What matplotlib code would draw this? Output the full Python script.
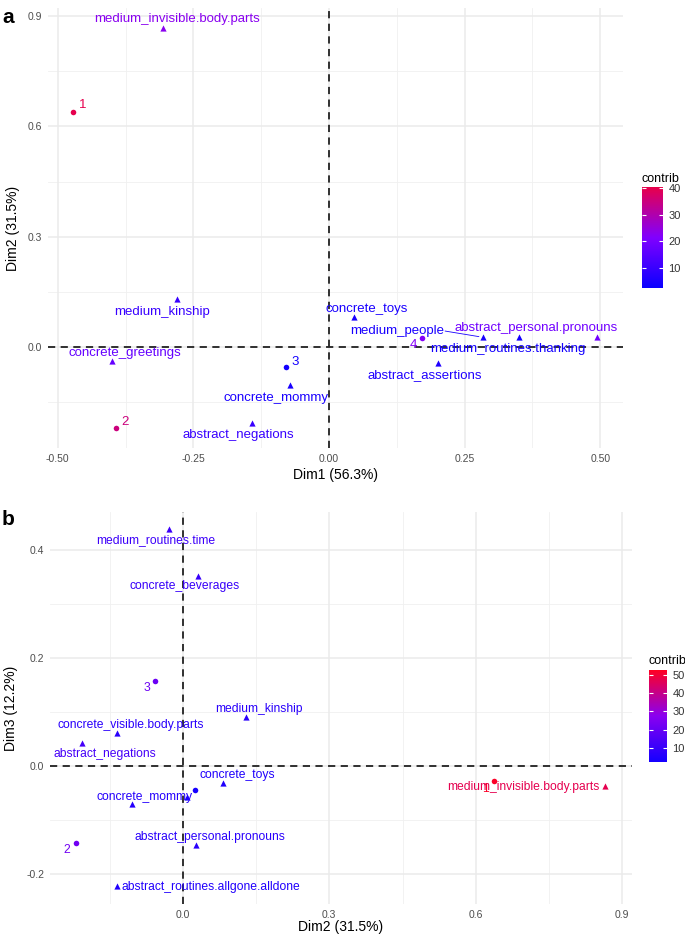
import numpy as np
import matplotlib.pyplot as plt
from matplotlib.colors import LinearSegmentedColormap, Normalize
from matplotlib.cm import ScalarMappable

plt.rcParams["font.family"] = ["Liberation Sans", "DejaVu Sans"]

# ===== panel a: Dim1 vs Dim2 =====
a_names = ["1", "2", "3", "4",
           "medium_invisible.body.parts", "medium_kinship", "concrete_greetings",
           "concrete_mommy", "abstract_negations", "concrete_toys", "medium_people",
           "medium_routines.thanking", "abstract_personal.pronouns", "abstract_assertions"]
a_kind = ["row"] * 4 + ["col"] * 10
a_dim1 = [-0.472, -0.393, -0.079, 0.172,
          -0.306, -0.281, -0.400, -0.072, -0.142, 0.046, 0.284, 0.351, 0.494, 0.201]
a_dim2 = [0.639, -0.220, -0.054, 0.024,
          0.867, 0.130, -0.038, -0.103, -0.207, 0.082, 0.027, 0.027, 0.028, -0.044]
a_contrib = [40, 35, 4, 22,
             23, 10, 17, 5, 10, 5, 5, 4, 19, 6]

# ===== panel b: Dim2 vs Dim3 =====
b_names = ["1", "2", "3", "4",
           "medium_routines.time", "concrete_beverages", "medium_kinship",
           "concrete_visible.body.parts", "abstract_negations", "concrete_toys",
           "concrete_mommy", "abstract_personal.pronouns",
           "abstract_routines.allgone.alldone", "medium_invisible.body.parts", "abstract_assertions"]
b_kind = ["row"] * 4 + ["col"] * 11
b_dim2 = [0.637, -0.219, -0.056, 0.025,
          -0.028, 0.031, 0.129, -0.134, -0.207, 0.082, -0.105, 0.027, -0.135, 0.865, 0.008]
b_dim3 = [-0.029, -0.143, 0.157, -0.044,
          0.439, 0.352, 0.091, 0.061, 0.043, -0.031, -0.071, -0.146, -0.222, -0.037, -0.057]
b_contrib = [52, 22, 21, 3,
             11, 10, 7, 7, 13, 5, 6, 7, 5, 47, 3]

# label offsets in pixels (dx, dy), labels not listed are hidden as in the original
a_offsets = {"1": (10, 7), "2": (9, 6), "3": (9, 5), "4": (-9, -7),
             "medium_invisible.body.parts": (14, 9), "medium_kinship": (-14, -13),
             "concrete_greetings": (13, 8), "concrete_mommy": (-14, -13),
             "abstract_negations": (-14, -12), "concrete_toys": (13, 8),
             "medium_people": (-86, 6), "medium_routines.thanking": (-12, -12),
             "abstract_personal.pronouns": (-61, 9), "abstract_assertions": (-13, -12)}
b_offsets = {"1": (-8, -8), "2": (-9, -7), "3": (-9, -7),
             "medium_routines.time": (-13, -11), "concrete_beverages": (-13, -10),
             "medium_kinship": (13, 8), "concrete_visible.body.parts": (13, 8),
             "abstract_negations": (23, -11), "concrete_toys": (14, 8),
             "concrete_mommy": (13, 7), "abstract_personal.pronouns": (14, 8),
             "abstract_routines.allgone.alldone": (94, -1),
             "medium_invisible.body.parts": (-82, -1)}

cmap_a = LinearSegmentedColormap.from_list("a", ["#0A00FF", "#8000FF", "#E8004A"])
cmap_b = LinearSegmentedColormap.from_list("b", ["#1400FF", "#8A00F0", "#FF0022"])
norm_a = Normalize(2.5, 40.3)
norm_b = Normalize(2.3, 52.7)

fig = plt.figure(figsize=(6.85, 9.34), dpi=100)
px = 0.72  # points per pixel


def draw_panel(ax, xs, ys, names, kinds, contrib, cmap, norm, offsets, fs,
               xlim, ylim, xticks, xlabels, yticks, ylabels, xminor, yminor,
               xtitle, ytitle, xpad=3, segment=None):
    ax.set_xlim(*xlim)
    ax.set_ylim(*ylim)
    for v in xminor:
        ax.axvline(v, color="#F0F0F0", lw=0.6, zorder=0)
    for v in yminor:
        ax.axhline(v, color="#F0F0F0", lw=0.6, zorder=0)
    for v in xticks:
        ax.axvline(v, color="#EBEBEB", lw=1.1, zorder=0)
    for v in yticks:
        ax.axhline(v, color="#EBEBEB", lw=1.1, zorder=0)
    ax.axvline(0, color="#222222", lw=1.3, ls=(0, (4, 3)), zorder=1)
    ax.axhline(0, color="#222222", lw=1.3, ls=(0, (4, 3)), zorder=1)

    for x, y, n, k, c in zip(xs, ys, names, kinds, contrib):
        col = cmap(norm(c))
        if k == "row":
            ax.scatter(x, y, s=16, marker="o", color=col, zorder=3, linewidths=0)
        else:
            ax.scatter(x, y, s=20, marker="^", color=col, zorder=3, linewidths=0)
        if n in offsets:
            dx, dy = offsets[n]
            ax.annotate(n, (x, y), xytext=(dx * px, dy * px), textcoords="offset points",
                        ha="center", va="center", fontsize=fs, color=col, zorder=4)

    if segment is not None:
        (x0, y0), (x1, y1), c = segment
        ax.annotate("", (x1, y1), xytext=(x0, y0),
                    arrowprops=dict(arrowstyle="-", color=cmap(norm(c)), lw=0.6,
                                    shrinkA=0, shrinkB=3))

    ax.set_xticks(xticks)
    ax.set_xticklabels(xlabels)
    ax.set_yticks(yticks)
    ax.set_yticklabels(ylabels)
    ax.tick_params(length=0, labelsize=7.5, labelcolor="#4D4D4D", pad=4)
    for s in ax.spines.values():
        s.set_visible(False)
    ax.set_xlabel(xtitle, fontsize=10, labelpad=xpad)
    ax.set_ylabel(ytitle, fontsize=10, labelpad=6)


def draw_cbar(rect, cmap, norm, ticks, title_y):
    cax = fig.add_axes(rect)
    cb = fig.colorbar(ScalarMappable(norm=norm, cmap=cmap), cax=cax)
    cb.outline.set_visible(False)
    cb.set_ticks(ticks)
    cax.tick_params(direction="in", length=3, width=0.8, color="white",
                    labelsize=8, labelcolor="#333333", pad=4, left=True, right=True)
    fig.text(rect[0], title_y, "contrib", fontsize=9, ha="left", va="bottom")


# panel a
ax_a = fig.add_axes([0.070, 0.5203, 0.8395, 0.4711])
i = a_names.index("medium_people")
draw_panel(ax_a, a_dim1, a_dim2, a_names, a_kind, a_contrib, cmap_a, norm_a, a_offsets, 9.5,
           (-0.518, 0.542), (-0.274, 0.922),
           [-0.5, -0.25, 0, 0.25, 0.5], ["-0.50", "-0.25", "0.00", "0.25", "0.50"],
           [0, 0.3, 0.6, 0.9], ["0.0", "0.3", "0.6", "0.9"],
           [-0.375, -0.125, 0.125, 0.375], [-0.15, 0.15, 0.45, 0.75],
           "Dim1 (56.3%)", "Dim2 (31.5%)",
           segment=((0.214, 0.044), (a_dim1[i], a_dim2[i]), a_contrib[i]))
draw_cbar([0.9372, 0.6916, 0.0307, 0.1081], cmap_a, norm_a, [10, 20, 30, 40], 0.8015)

# panel b
ax_b = fig.add_axes([0.073, 0.0321, 0.8496, 0.4197])
draw_panel(ax_b, b_dim2, b_dim3, b_names, b_kind, b_contrib, cmap_b, norm_b, b_offsets, 8.7,
           (-0.272, 0.920), (-0.256, 0.470),
           [0, 0.3, 0.6, 0.9], ["0.0", "0.3", "0.6", "0.9"],
           [-0.2, 0, 0.2, 0.4], ["-0.2", "0.0", "0.2", "0.4"],
           [-0.15, 0.15, 0.45, 0.75], [-0.1, 0.1, 0.3],
           "Dim2 (31.5%)", "Dim3 (12.2%)", xpad=0.5)
draw_cbar([0.9474, 0.1842, 0.0263, 0.0985], cmap_b, norm_b, [10, 20, 30, 40, 50], 0.2855)

fig.text(0.003, 0.981, "a", fontsize=15, fontweight="bold", va="center")
fig.text(0.003, 0.444, "b", fontsize=15, fontweight="bold", va="center")

fig.savefig("out.png", dpi=100)
